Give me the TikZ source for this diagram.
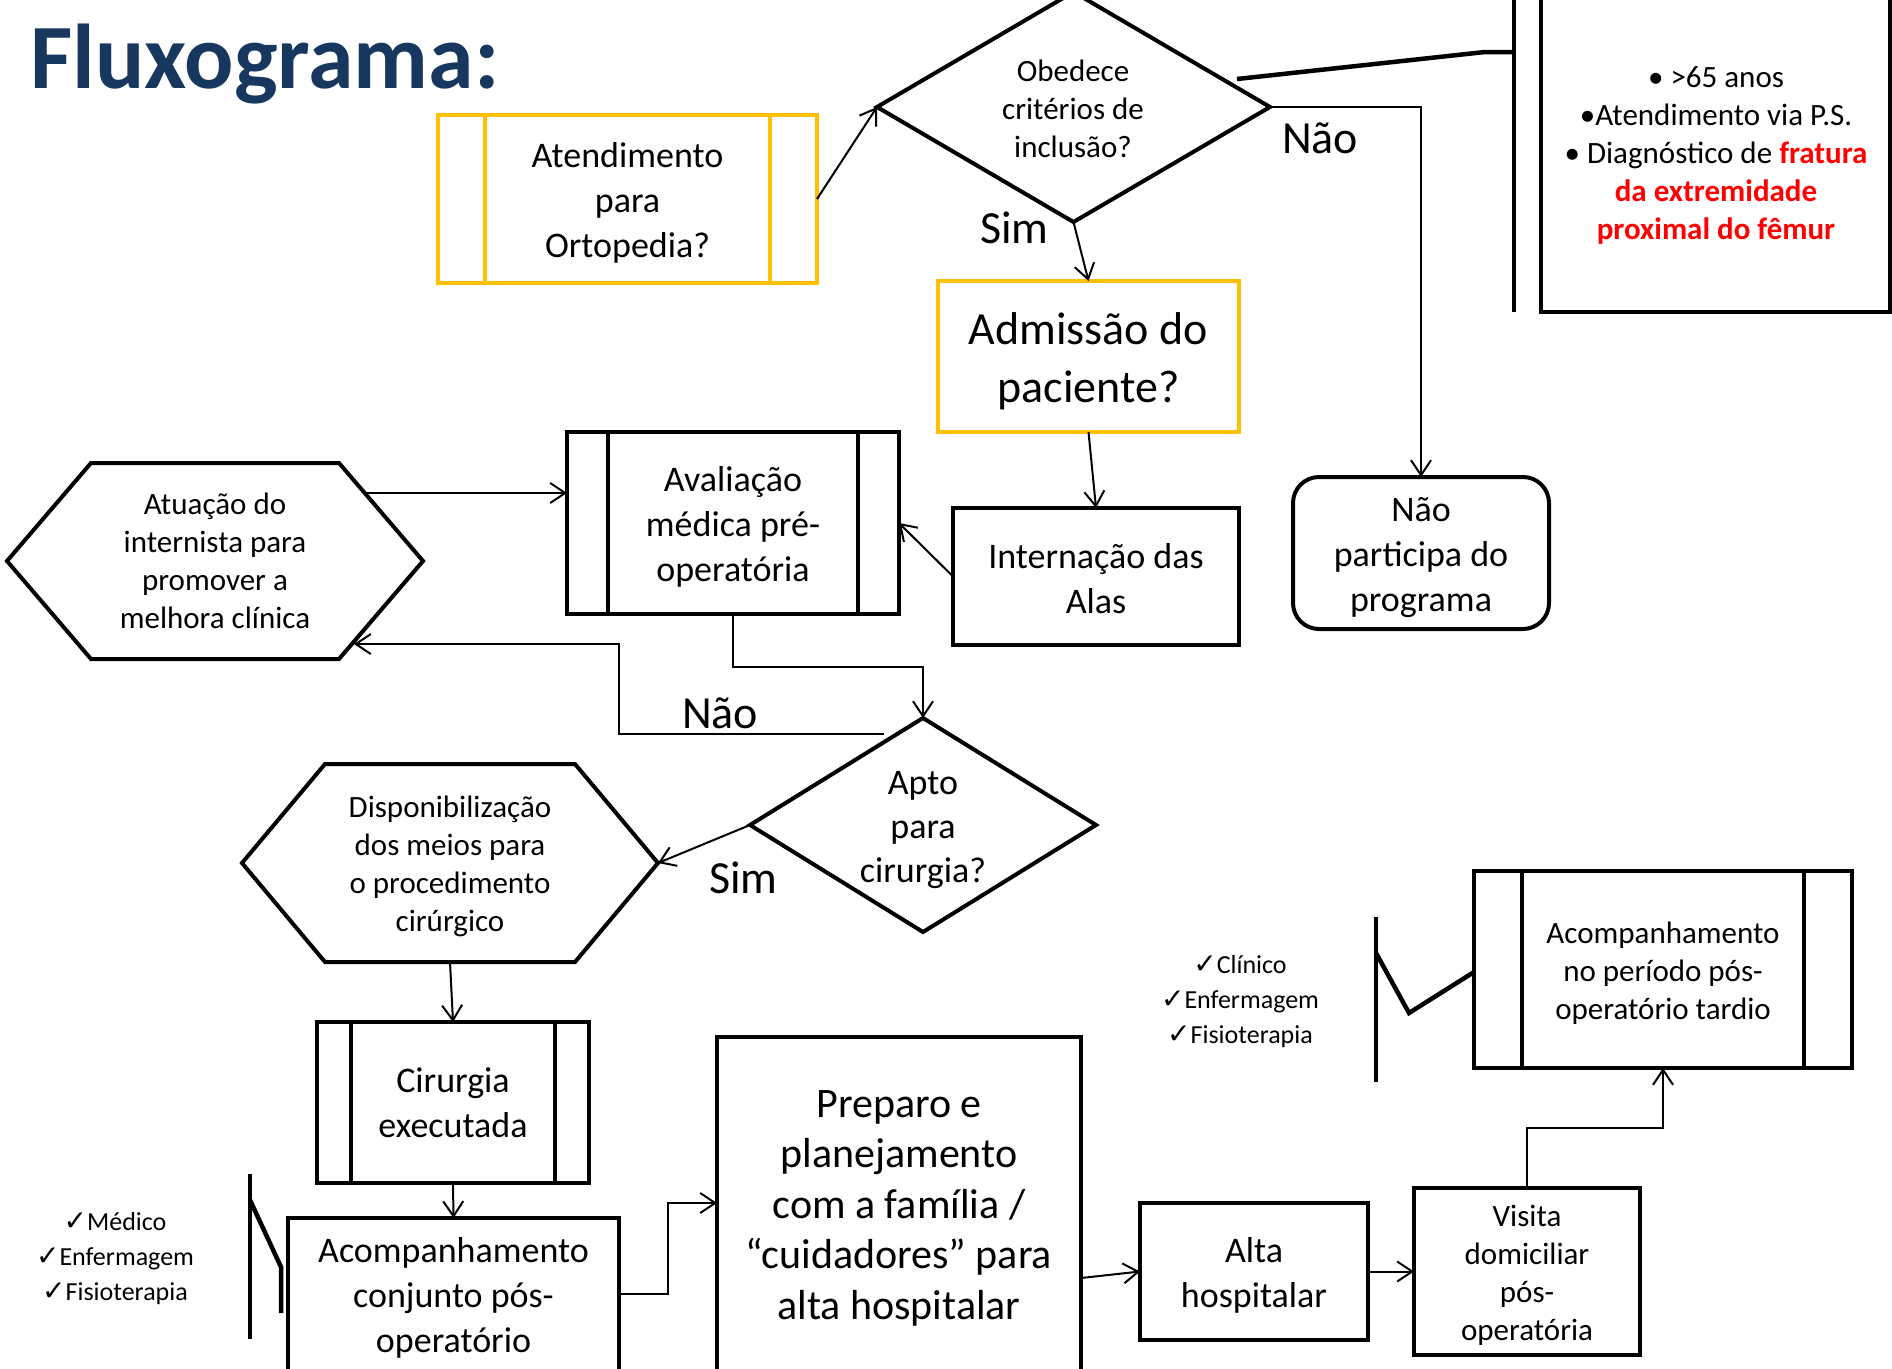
\documentclass[tikz,border=0pt]{standalone}
\usepackage{fontspec}
\setmainfont{Carlito}
\newfontfamily\symfont{DejaVu Sans}
\usetikzlibrary{shapes.geometric,arrows.meta,calc}
\definecolor{ybox}{HTML}{FFC000}
\definecolor{titleblue}{HTML}{17375E}
\newcommand\ck{{\symfont\fontsize{28}{28}\selectfont ✓}}
\newcommand\innerbars[3]{\draw[line width=4pt,#3] ([xshift=#2]#1.north west) -- ([xshift=#2]#1.south west) ([xshift=-#2]#1.north east) -- ([xshift=-#2]#1.south east);}
\tikzset{
  box/.style={draw, line width=4pt, inner sep=0pt, outer sep=0pt, rectangle},
  dia/.style={diamond, draw, line width=4pt, inner sep=0pt, outer sep=0pt},
  hexa/.style={draw, line width=4pt, line join=miter},
  tl/.style={font=\fontsize{36}{45}\selectfont, align=center},
  ts/.style={font=\fontsize{31}{38}\selectfont, align=center},
  lbl/.style={font=\fontsize{46}{50}\selectfont, anchor=base west, inner sep=0pt},
  chk/.style={font=\fontsize{26}{35}\selectfont, align=center},
  arr/.style={line width=2pt, -{Straight Barb[length=15pt,width=20pt]}},
  brk/.style={line width=4.5pt},
}
\begin{document}
\begin{tikzpicture}[x=1pt,y=-1pt]
\useasboundingbox (0,0) rectangle (1892,1368);
\clip (0,0) rectangle (1892,1368);

% title
\node[anchor=base west, inner sep=0pt, font=\fontsize{92}{92}\selectfont\bfseries, text=titleblue] (title) at (30,88) {Fluxograma:};

% top row
\node[box, draw=ybox, minimum width=379, minimum height=168] (aten) at (627.5,199) {};
\innerbars{aten}{47}{ybox}
\node[tl] (aten-t) at ([yshift=-4pt]aten.center) {Atendimento\\para\\Ortopedia?};

\node[dia, minimum width=393, minimum height=230] (obd) at (1073.5,107) {};
\node[ts] (obd-t) at (1073,109) {Obedece\\critérios de\\inclusão?};

\node[box, minimum width=349, minimum height=340] (crit) at (1715.5,142) {};
\node[ts] (crit-t) at (1716,155) {• >65 anos\\•Atendimento via P.S.\\• Diagnóstico de \textcolor{red}{\bfseries fratura}\\\textcolor{red}{\bfseries da extremidade}\\\textcolor{red}{\bfseries proximal do fêmur}};
\coordinate (critA) at (1237,79);
\coordinate (critB) at (1485,52);
\coordinate (critC) at (1514,52);
\coordinate (critT) at (1514,-5);
\coordinate (critD) at (1514,312);
\draw[brk] (critT) -- (critD);
\draw[brk] (critA) -- (critB) -- (critC);

\node[box, draw=ybox, minimum width=301, minimum height=151] (adm) at (1088.5,356.5) {};
\node[font=\fontsize{46}{58}\selectfont, align=center] (adm-t) at ([yshift=-5pt]adm.center) {Admissão do\\paciente?};

\node[box, minimum width=286, minimum height=137] (int) at (1096,576.5) {};
\node[tl] (int-t) at ([yshift=-2pt]int.center) {Internação das\\Alas};

\node[box, rounded corners=26pt, minimum width=256, minimum height=152] (np) at (1421,553) {};
\node[tl] (np-t) at ([yshift=-5pt]np.center) {Não\\participa do\\programa};

\node[box, minimum width=332, minimum height=182] (ava) at (733,523) {};
\innerbars{ava}{41}{black}
\node[tl] (ava-t) at ([yshift=-4pt]ava.center) {Avaliação\\médica pré-\\operatória};

% hexagon A
\node[ts] (hA) at (215,561) {Atuação do\\internista para\\promover a\\melhora clínica};
\coordinate (hA-w) at (7,561);
\coordinate (hA-nw) at (91,463);
\coordinate (hA-ne) at (339,463);
\coordinate (hA-e) at (423,561);
\coordinate (hA-se) at (339,659);
\coordinate (hA-sw) at (91,659);
\draw[hexa] (hA-w) -- (hA-nw) -- (hA-ne) -- (hA-e) -- (hA-se) -- (hA-sw) -- cycle;
\coordinate (hA-a) at (365,493);
\coordinate (hA-b) at (354,644);

% Apto diamond
\node[dia, minimum width=346, minimum height=214] (apto) at (923,825) {};
\node[font=\fontsize{36}{44}\selectfont, align=center] (apto-t) at (923,830) {Apto\\para\\cirurgia?};

% hexagon B
\node[ts] (hB) at (450,866) {Disponibilização\\dos meios para\\o procedimento\\cirúrgico};
\coordinate (hB-w) at (242,863);
\coordinate (hB-nw) at (325,764);
\coordinate (hB-ne) at (575,764);
\coordinate (hB-e) at (658,863);
\coordinate (hB-se) at (575,962);
\coordinate (hB-sw) at (325,962);
\coordinate (hB-s) at (450,962);
\draw[hexa] (hB-w) -- (hB-nw) -- (hB-ne) -- (hB-e) -- (hB-se) -- (hB-sw) -- cycle;

% lower boxes
\node[box, minimum width=272, minimum height=161] (cir) at (453,1102.5) {};
\innerbars{cir}{34}{black}
\node[tl] (cir-t) at (cir.center) {Cirurgia\\executada};

\node[box, minimum width=331, minimum height=156] (acc) at (453.5,1296) {};
\node[tl] (acc-t) at ([yshift=-2pt]acc.center) {Acompanhamento\\conjunto pós-\\operatório};

\node[box, minimum width=364, minimum height=334] (prep) at (899,1204) {};
\node[font=\fontsize{42}{50.5}\selectfont, align=center] (prep-t) at ([yshift=-4pt]prep.center) {Preparo e\\planejamento\\com a família /\\“cuidadores” para\\alta hospitalar};

\node[box, minimum width=228, minimum height=137] (alta) at (1254,1271.5) {};
\node[tl] (alta-t) at ([yshift=-4pt]alta.center) {Alta\\hospitalar};

\node[box, minimum width=226, minimum height=167] (vis) at (1527,1271.5) {};
\node[ts] (vis-t) at ([yshift=-4pt]vis.center) {Visita\\domiciliar\\pós-\\operatória};

\node[box, minimum width=378, minimum height=197] (tar) at (1663,969.5) {};
\innerbars{tar}{48}{black}
\node[ts] (tar-t) at ([yshift=-4pt]tar.center) {Acompanhamento\\no período pós-\\operatório tardio};

% check lists
\node[chk] (lst1) at (115,1259) {\ck Médico\\\ck Enfermagem\\\ck Fisioterapia};
\node[chk] (lst2) at (1240,1002) {\ck Clínico\\\ck Enfermagem\\\ck Fisioterapia};

\coordinate (b1t) at (250,1174);
\coordinate (b1b) at (250,1339);
\coordinate (b1a) at (250,1200);
\coordinate (b1m) at (281,1267);
\coordinate (b1e) at (281,1313);
\draw[brk] (b1t) -- (b1b);
\draw[brk] (b1a) -- (b1m) -- (b1e);

\coordinate (b2t) at (1376,917);
\coordinate (b2b) at (1376,1082);
\coordinate (b2a) at (1376,953);
\coordinate (b2m) at (1409,1013);
\coordinate (b2e) at (1474,972);
\draw[brk] (b2t) -- (b2b);
\draw[brk] (b2a) -- (b2m) -- (b2e);

% labels
\node[lbl] (nao1) at (1282,153) {Não};
\node[lbl] (sim1) at (980,243) {Sim};
\node[lbl] (nao2) at (682,728) {Não};
\node[lbl] (sim2) at (709,893) {Sim};

% connectors
\draw[arr] (aten.east) -- (obd.west);
\draw[arr] (obd.south) -- (adm.north);
\draw[arr] (obd.east) -| (np.north);
\draw[arr] (adm.south) -- (int.north);
\draw[arr] (int.west) -- (ava.east);
\draw[arr] (hA-a) -- (hA-a -| ava.west);
\draw[arr] (ava.south) -- ++(0,53) -| (apto.north);
\coordinate (naoS) at (884,734);
\draw[arr] (naoS) -- (619,734) |- (hA-b);
\draw[arr] (apto.west) -- (hB-e);
\draw[arr] (hB-s) -- (cir.north);
\draw[arr] (cir.south) -- (acc.north);
\coordinate (accR) at (619,1294);
\coordinate (prepL) at (717,1203);
\draw[arr] (accR) -- (668,1294) |- (prepL);
\coordinate (prepR) at (1081,1278);
\draw[arr] (prepR) -- (alta.west);
\draw[arr] (alta.east) -- (vis.west);
\draw[arr] (vis.north) -- ++(0,-60) -| (tar.south);
\end{tikzpicture}
\end{document}
